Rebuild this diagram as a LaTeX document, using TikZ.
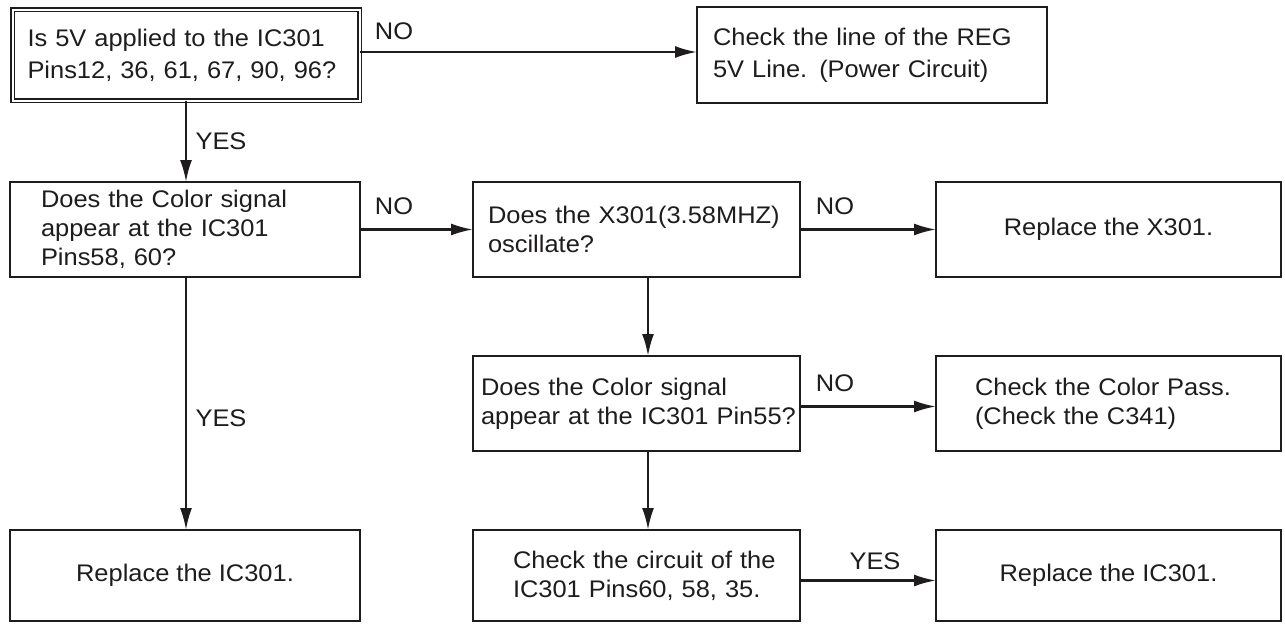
\documentclass[tikz,border=0pt]{standalone}
\usepackage{fontspec}
\setmainfont[FakeStretch=1.06]{Liberation Sans}
\usetikzlibrary{arrows.meta,calc}
\definecolor{ink}{HTML}{1E1C1D}
\newcommand{\boxfont}{\fontsize{24}{29}\selectfont}
\newcommand{\wideboxfont}{\fontsize{24}{32}\selectfont}
\begin{document}
\begin{tikzpicture}[x=1pt,y=-1pt,
  inkline/.style={draw=ink, line width=2.4pt},
  box/.style={inkline, anchor=north west, inner ysep=0pt, outer sep=0pt, text=ink, font=\boxfont, align=left},
  cbox/.style={inkline, anchor=north west, inner sep=0pt, outer sep=0pt, text=ink, font=\boxfont, align=center},
  lbl/.style={text=ink, font=\boxfont, inner sep=0pt},
  arr/.style={draw=ink, line width=2.4pt, -{Latex[length=22pt,width=12pt]}},
]
\useasboundingbox (0,0) rectangle (1285,624);
\fill[white] (0,0) rectangle (1285,624);

% row 1
\node[box, double=white, double distance=2pt, line width=1.5pt, minimum width=347pt, minimum height=91pt, inner xsep=15pt, text width=317pt, font=\wideboxfont] (b1) at (12.5,9.5)
  {\mbox{Is 5V applied to the IC301}\\\mbox{Pins12, 36, 61, 67, 90, 96?}};
\node[box, minimum width=350pt, minimum height=96pt, inner xsep=16pt, text width=318pt, font=\wideboxfont] (reg) at (697,7)
  {\mbox{Check the line of the REG}\\\mbox{5V Line. (Power Circuit)}};

% row 2
\node[box, minimum width=350pt, minimum height=95pt, inner xsep=31pt, text width=288pt] (b2) at (10,182)
  {\mbox{Does the Color signal}\\\mbox{appear at the IC301}\\\mbox{Pins58, 60?}};
\node[box, minimum width=327pt, minimum height=95pt, inner xsep=15pt, text width=297pt] (x301) at (473,182)
  {\mbox{Does the X301(3.58MHZ)}\\\mbox{oscillate?}};
\node[cbox, minimum width=345pt, minimum height=95pt] (repX) at (936,182) {Replace the X301.};

% row 3
\node[box, minimum width=327pt, minimum height=95pt, inner xsep=8pt, text width=311pt] (pin55) at (473,356)
  {\mbox{Does the Color signal}\\\mbox{appear at the IC301 Pin55?}};
\node[box, minimum width=345pt, minimum height=95pt, inner xsep=39pt, text width=267pt] (pass) at (936,356)
  {\mbox{Check the Color Pass.}\\\mbox{(Check the C341)}};

% row 4
\node[cbox, minimum width=350pt, minimum height=91pt] (repIC1) at (10,530) {Replace the IC301.};
\node[box, minimum width=327pt, minimum height=91pt, inner xsep=40pt, text width=247pt] (circ) at (473,530)
  {\mbox{Check the circuit of the}\\\mbox{IC301 Pins60, 58, 35.}};
\node[cbox, minimum width=345pt, minimum height=91pt] (repIC2) at (936,530) {Replace the IC301.};

\coordinate (mx) at (648,0);
\coordinate (s1) at ([yshift=3pt]b1.east);
\coordinate (s2) at ([yshift=-3pt]pin55.east);
\coordinate (s3) at ([yshift=-5pt]circ.east);

% connectors
\draw[arr] (b1.south) -- (b1.south |- b2.north);
\draw[arr] (s1) -- (reg.west |- s1);
\draw[arr] (b2.east) -- (x301.west |- b2.east);
\draw[arr] (x301.east) -- (repX.west |- x301.east);
\draw[arr] (x301.south -| mx) -- (pin55.north -| mx);
\draw[arr] (s2) -- (pass.west |- s2);
\draw[arr] (pin55.south -| mx) -- (circ.north -| mx);
\draw[arr] (s3) -- (repIC2.west |- s3);
\draw[arr] (b2.south -| b1.south) -- (repIC1.north -| b1.south);

% labels
\node[lbl] (no1) at (394,31) {NO};
\node[lbl] (yes1) at (221,141) {YES};
\node[lbl] (no2) at (394,206) {NO};
\node[lbl] (no3) at (835,206) {NO};
\node[lbl] (no4) at (835,383) {NO};
\node[lbl] (yes2) at (221,418) {YES};
\node[lbl] (yes3) at (875,561) {YES};
\end{tikzpicture}
\end{document}
